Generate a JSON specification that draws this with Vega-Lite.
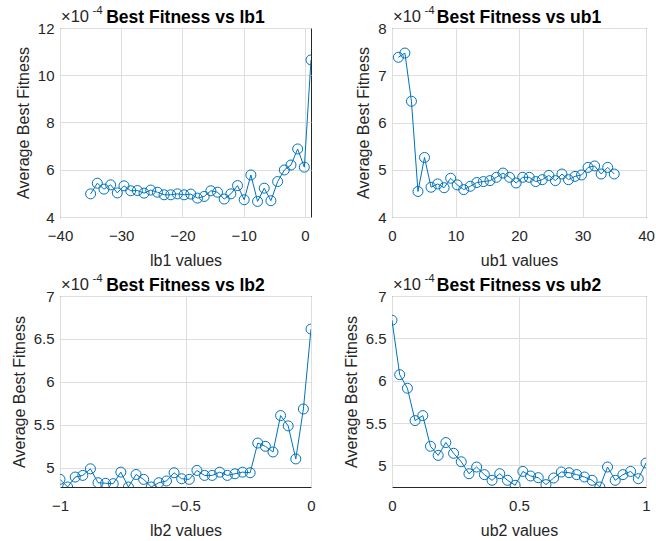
{
  "$schema": "https://vega.github.io/schema/vega-lite/v6.json",
  "background": "white",
  "padding": {"left": 10, "top": 4, "right": 0, "bottom": 0},
  "config": {
    "font": "Liberation Sans",
    "view": {"stroke": "#262626", "strokeWidth": 1},
    "axis": {
      "grid": true, "gridColor": "#dedede", "gridWidth": 1,
      "domain": false, "ticks": false, "labelFlush": false,
      "labelFontSize": 15, "labelColor": "#262626",
      "titleFontSize": 16, "titleFontWeight": "normal", "titleColor": "#262626"
    },
    "axisX": {"labelPadding": 11, "titlePadding": 9},
    "axisY": {"labelPadding": 6, "titlePadding": 6},
    "title": {"fontSize": 17.5, "fontWeight": "bold", "color": "#000000", "offset": -21, "frame": "group", "anchor": "middle"}
  },
  "datasets": {
    "lb1": [
      {"lb1": -35, "fitness": 4.98e-4}, {"lb1": -33.91, "fitness": 5.43e-4}, {"lb1": -32.82, "fitness": 5.18e-4},
      {"lb1": -31.73, "fitness": 5.36e-4}, {"lb1": -30.64, "fitness": 5.02e-4}, {"lb1": -29.55, "fitness": 5.32e-4},
      {"lb1": -28.45, "fitness": 5.11e-4}, {"lb1": -27.36, "fitness": 5.12e-4}, {"lb1": -26.27, "fitness": 5.01e-4},
      {"lb1": -25.18, "fitness": 5.14e-4}, {"lb1": -24.09, "fitness": 5.05e-4}, {"lb1": -23, "fitness": 4.94e-4},
      {"lb1": -21.91, "fitness": 4.94e-4}, {"lb1": -20.82, "fitness": 4.98e-4}, {"lb1": -19.73, "fitness": 4.94e-4},
      {"lb1": -18.64, "fitness": 4.97e-4}, {"lb1": -17.55, "fitness": 4.80e-4}, {"lb1": -16.45, "fitness": 4.87e-4},
      {"lb1": -15.36, "fitness": 5.11e-4}, {"lb1": -14.27, "fitness": 5.05e-4}, {"lb1": -13.18, "fitness": 4.76e-4},
      {"lb1": -12.09, "fitness": 4.98e-4}, {"lb1": -11, "fitness": 5.33e-4}, {"lb1": -9.91, "fitness": 4.73e-4},
      {"lb1": -8.82, "fitness": 5.78e-4}, {"lb1": -7.73, "fitness": 4.66e-4}, {"lb1": -6.64, "fitness": 5.22e-4},
      {"lb1": -5.55, "fitness": 4.69e-4}, {"lb1": -4.45, "fitness": 5.50e-4}, {"lb1": -3.36, "fitness": 5.99e-4},
      {"lb1": -2.27, "fitness": 6.20e-4}, {"lb1": -1.18, "fitness": 6.88e-4}, {"lb1": -0.09, "fitness": 6.11e-4},
      {"lb1": 1, "fitness": 10.65e-4}
    ],
    "ub1": [
      {"ub1": 1, "fitness": 7.38e-4}, {"ub1": 2.03, "fitness": 7.47e-4}, {"ub1": 3.06, "fitness": 6.45e-4},
      {"ub1": 4.09, "fitness": 4.54e-4}, {"ub1": 5.12, "fitness": 5.26e-4}, {"ub1": 6.15, "fitness": 4.63e-4},
      {"ub1": 7.18, "fitness": 4.70e-4}, {"ub1": 8.21, "fitness": 4.62e-4}, {"ub1": 9.24, "fitness": 4.82e-4},
      {"ub1": 10.27, "fitness": 4.68e-4}, {"ub1": 11.30, "fitness": 4.58e-4}, {"ub1": 12.33, "fitness": 4.65e-4},
      {"ub1": 13.36, "fitness": 4.73e-4}, {"ub1": 14.39, "fitness": 4.75e-4}, {"ub1": 15.42, "fitness": 4.77e-4},
      {"ub1": 16.45, "fitness": 4.84e-4}, {"ub1": 17.48, "fitness": 4.93e-4}, {"ub1": 18.52, "fitness": 4.84e-4},
      {"ub1": 19.55, "fitness": 4.72e-4}, {"ub1": 20.58, "fitness": 4.84e-4}, {"ub1": 21.61, "fitness": 4.84e-4},
      {"ub1": 22.64, "fitness": 4.75e-4}, {"ub1": 23.67, "fitness": 4.79e-4}, {"ub1": 24.70, "fitness": 4.88e-4},
      {"ub1": 25.73, "fitness": 4.77e-4}, {"ub1": 26.76, "fitness": 4.91e-4}, {"ub1": 27.79, "fitness": 4.79e-4},
      {"ub1": 28.82, "fitness": 4.86e-4}, {"ub1": 29.85, "fitness": 4.89e-4}, {"ub1": 30.88, "fitness": 5.05e-4},
      {"ub1": 31.91, "fitness": 5.08e-4}, {"ub1": 32.94, "fitness": 4.91e-4}, {"ub1": 33.97, "fitness": 5.05e-4},
      {"ub1": 35, "fitness": 4.91e-4}
    ],
    "lb2": [
      {"lb2": -1, "fitness": 4.864e-4}, {"lb2": -0.9697, "fitness": 4.775e-4}, {"lb2": -0.9394, "fitness": 4.891e-4},
      {"lb2": -0.9091, "fitness": 4.910e-4}, {"lb2": -0.8788, "fitness": 4.987e-4}, {"lb2": -0.8485, "fitness": 4.825e-4},
      {"lb2": -0.8182, "fitness": 4.818e-4}, {"lb2": -0.7879, "fitness": 4.814e-4}, {"lb2": -0.7576, "fitness": 4.948e-4},
      {"lb2": -0.7273, "fitness": 4.775e-4}, {"lb2": -0.6970, "fitness": 4.921e-4}, {"lb2": -0.6667, "fitness": 4.864e-4},
      {"lb2": -0.6364, "fitness": 4.775e-4}, {"lb2": -0.6061, "fitness": 4.825e-4}, {"lb2": -0.5758, "fitness": 4.845e-4},
      {"lb2": -0.5455, "fitness": 4.941e-4}, {"lb2": -0.5152, "fitness": 4.871e-4}, {"lb2": -0.4848, "fitness": 4.864e-4},
      {"lb2": -0.4545, "fitness": 4.968e-4}, {"lb2": -0.4242, "fitness": 4.910e-4}, {"lb2": -0.3939, "fitness": 4.910e-4},
      {"lb2": -0.3636, "fitness": 4.948e-4}, {"lb2": -0.3333, "fitness": 4.910e-4}, {"lb2": -0.3030, "fitness": 4.929e-4},
      {"lb2": -0.2727, "fitness": 4.948e-4}, {"lb2": -0.2424, "fitness": 4.941e-4}, {"lb2": -0.2121, "fitness": 5.287e-4},
      {"lb2": -0.1818, "fitness": 5.249e-4}, {"lb2": -0.1515, "fitness": 5.183e-4}, {"lb2": -0.1212, "fitness": 5.607e-4},
      {"lb2": -0.0909, "fitness": 5.487e-4}, {"lb2": -0.0606, "fitness": 5.102e-4}, {"lb2": -0.0303, "fitness": 5.684e-4},
      {"lb2": 0, "fitness": 6.615e-4}
    ],
    "ub2": [
      {"ub2": 0, "fitness": 6.714e-4}, {"ub2": 0.0303, "fitness": 6.071e-4}, {"ub2": 0.0606, "fitness": 5.911e-4},
      {"ub2": 0.0909, "fitness": 5.529e-4}, {"ub2": 0.1212, "fitness": 5.588e-4}, {"ub2": 0.1515, "fitness": 5.226e-4},
      {"ub2": 0.1818, "fitness": 5.118e-4}, {"ub2": 0.2121, "fitness": 5.270e-4}, {"ub2": 0.2424, "fitness": 5.143e-4},
      {"ub2": 0.2727, "fitness": 5.043e-4}, {"ub2": 0.3030, "fitness": 4.902e-4}, {"ub2": 0.3333, "fitness": 4.981e-4},
      {"ub2": 0.3636, "fitness": 4.891e-4}, {"ub2": 0.3939, "fitness": 4.824e-4}, {"ub2": 0.4242, "fitness": 4.902e-4},
      {"ub2": 0.4545, "fitness": 4.824e-4}, {"ub2": 0.4848, "fitness": 4.765e-4}, {"ub2": 0.5152, "fitness": 4.929e-4},
      {"ub2": 0.5455, "fitness": 4.875e-4}, {"ub2": 0.5758, "fitness": 4.855e-4}, {"ub2": 0.6061, "fitness": 4.773e-4},
      {"ub2": 0.6364, "fitness": 4.851e-4}, {"ub2": 0.6667, "fitness": 4.922e-4}, {"ub2": 0.6970, "fitness": 4.914e-4},
      {"ub2": 0.7273, "fitness": 4.891e-4}, {"ub2": 0.7576, "fitness": 4.863e-4}, {"ub2": 0.7879, "fitness": 4.824e-4},
      {"ub2": 0.8182, "fitness": 4.745e-4}, {"ub2": 0.8485, "fitness": 4.981e-4}, {"ub2": 0.8788, "fitness": 4.824e-4},
      {"ub2": 0.9091, "fitness": 4.891e-4}, {"ub2": 0.9394, "fitness": 4.929e-4}, {"ub2": 0.9697, "fitness": 4.843e-4},
      {"ub2": 1, "fitness": 5.028e-4}
    ],
    "exponent": [{"mult": "×10", "exp": "-4"}]
  },
  "columns": 2,
  "bounds": "flush",
  "spacing": {"row": 79, "column": 81},
  "concat": [
    {
      "width": 251, "height": 189,
      "title": "Best Fitness vs lb1",
      "layer": [
        {
          "data": {"name": "lb1"},
          "mark": {"type": "line", "color": "#0072BD", "strokeWidth": 1, "clip": true},
          "encoding": {
            "x": {"field": "lb1", "type": "quantitative", "title": "lb1 values", "scale": {"domain": [-40, 1], "nice": false, "zero": false}, "axis": {"values": [-40, -30, -20, -10, 0], "format": "~g"}},
            "y": {"field": "fitness", "type": "quantitative", "title": "Average Best Fitness", "scale": {"domain": [0.0004, 0.0012], "nice": false, "zero": false}, "axis": {"values": [0.0004, 0.0006, 0.0008, 0.001, 0.0012], "labelExpr": "format(datum.value * 10000, '~g')"}}
          }
        },
        {
          "data": {"name": "lb1"},
          "mark": {"type": "point", "shape": "circle", "filled": false, "size": 100, "color": "#0072BD", "strokeWidth": 1, "opacity": 1, "clip": true},
          "encoding": {
            "x": {"field": "lb1", "type": "quantitative", "title": "lb1 values"},
            "y": {"field": "fitness", "type": "quantitative", "title": "Average Best Fitness"}
          }
        },
        {
          "data": {"name": "exponent"},
          "mark": {"type": "text", "align": "left", "baseline": "alphabetic", "dx": 1, "dy": -6, "fontSize": 16.5, "color": "#262626"},
          "encoding": {"x": {"datum": -40, "title": "lb1 values"}, "y": {"datum": 0.0012, "title": "Average Best Fitness"}, "text": {"field": "mult"}}
        },
        {
          "data": {"name": "exponent"},
          "mark": {"type": "text", "align": "left", "baseline": "alphabetic", "dx": 32.5, "dy": -14, "fontSize": 11.5, "color": "#262626"},
          "encoding": {"x": {"datum": -40, "title": "lb1 values"}, "y": {"datum": 0.0012, "title": "Average Best Fitness"}, "text": {"field": "exp"}}
        }
      ]
    },
    {
      "width": 254, "height": 189,
      "title": "Best Fitness vs ub1",
      "layer": [
        {
          "data": {"name": "ub1"},
          "mark": {"type": "line", "color": "#0072BD", "strokeWidth": 1, "clip": true},
          "encoding": {
            "x": {"field": "ub1", "type": "quantitative", "title": "ub1 values", "scale": {"domain": [0, 40], "nice": false, "zero": false}, "axis": {"values": [0, 10, 20, 30, 40], "format": "~g"}},
            "y": {"field": "fitness", "type": "quantitative", "title": "Average Best Fitness", "scale": {"domain": [0.0004, 0.0008], "nice": false, "zero": false}, "axis": {"values": [0.0004, 0.0005, 0.0006, 0.0007, 0.0008], "labelExpr": "format(datum.value * 10000, '~g')"}}
          }
        },
        {
          "data": {"name": "ub1"},
          "mark": {"type": "point", "shape": "circle", "filled": false, "size": 100, "color": "#0072BD", "strokeWidth": 1, "opacity": 1, "clip": true},
          "encoding": {
            "x": {"field": "ub1", "type": "quantitative", "title": "ub1 values"},
            "y": {"field": "fitness", "type": "quantitative", "title": "Average Best Fitness"}
          }
        },
        {
          "data": {"name": "exponent"},
          "mark": {"type": "text", "align": "left", "baseline": "alphabetic", "dx": 1, "dy": -6, "fontSize": 16.5, "color": "#262626"},
          "encoding": {"x": {"datum": 0, "title": "ub1 values"}, "y": {"datum": 0.0008, "title": "Average Best Fitness"}, "text": {"field": "mult"}}
        },
        {
          "data": {"name": "exponent"},
          "mark": {"type": "text", "align": "left", "baseline": "alphabetic", "dx": 32.5, "dy": -14, "fontSize": 11.5, "color": "#262626"},
          "encoding": {"x": {"datum": 0, "title": "ub1 values"}, "y": {"datum": 0.0008, "title": "Average Best Fitness"}, "text": {"field": "exp"}}
        }
      ]
    },
    {
      "width": 251, "height": 191,
      "title": "Best Fitness vs lb2",
      "layer": [
        {
          "data": {"name": "lb2"},
          "mark": {"type": "line", "color": "#0072BD", "strokeWidth": 1, "clip": true},
          "encoding": {
            "x": {"field": "lb2", "type": "quantitative", "title": "lb2 values", "scale": {"domain": [-1, 0], "nice": false, "zero": false}, "axis": {"values": [-1, -0.5, 0], "format": "~g"}},
            "y": {"field": "fitness", "type": "quantitative", "title": "Average Best Fitness", "scale": {"domain": [0.0004775, 0.0007], "nice": false, "zero": false}, "axis": {"values": [0.0005, 0.00055, 0.0006, 0.00065, 0.0007], "labelExpr": "format(datum.value * 10000, '~g')"}}
          }
        },
        {
          "data": {"name": "lb2"},
          "mark": {"type": "point", "shape": "circle", "filled": false, "size": 100, "color": "#0072BD", "strokeWidth": 1, "opacity": 1, "clip": true},
          "encoding": {
            "x": {"field": "lb2", "type": "quantitative", "title": "lb2 values"},
            "y": {"field": "fitness", "type": "quantitative", "title": "Average Best Fitness"}
          }
        },
        {
          "data": {"name": "exponent"},
          "mark": {"type": "text", "align": "left", "baseline": "alphabetic", "dx": 1, "dy": -6, "fontSize": 16.5, "color": "#262626"},
          "encoding": {"x": {"datum": -1, "title": "lb2 values"}, "y": {"datum": 0.0007, "title": "Average Best Fitness"}, "text": {"field": "mult"}}
        },
        {
          "data": {"name": "exponent"},
          "mark": {"type": "text", "align": "left", "baseline": "alphabetic", "dx": 32.5, "dy": -14, "fontSize": 11.5, "color": "#262626"},
          "encoding": {"x": {"datum": -1, "title": "lb2 values"}, "y": {"datum": 0.0007, "title": "Average Best Fitness"}, "text": {"field": "exp"}}
        }
      ]
    },
    {
      "width": 254, "height": 191,
      "title": "Best Fitness vs ub2",
      "layer": [
        {
          "data": {"name": "ub2"},
          "mark": {"type": "line", "color": "#0072BD", "strokeWidth": 1, "clip": true},
          "encoding": {
            "x": {"field": "ub2", "type": "quantitative", "title": "ub2 values", "scale": {"domain": [0, 1], "nice": false, "zero": false}, "axis": {"values": [0, 0.5, 1], "format": "~g"}},
            "y": {"field": "fitness", "type": "quantitative", "title": "Average Best Fitness", "scale": {"domain": [0.0004745, 0.0007], "nice": false, "zero": false}, "axis": {"values": [0.0005, 0.00055, 0.0006, 0.00065, 0.0007], "labelExpr": "format(datum.value * 10000, '~g')"}}
          }
        },
        {
          "data": {"name": "ub2"},
          "mark": {"type": "point", "shape": "circle", "filled": false, "size": 100, "color": "#0072BD", "strokeWidth": 1, "opacity": 1, "clip": true},
          "encoding": {
            "x": {"field": "ub2", "type": "quantitative", "title": "ub2 values"},
            "y": {"field": "fitness", "type": "quantitative", "title": "Average Best Fitness"}
          }
        },
        {
          "data": {"name": "exponent"},
          "mark": {"type": "text", "align": "left", "baseline": "alphabetic", "dx": 1, "dy": -6, "fontSize": 16.5, "color": "#262626"},
          "encoding": {"x": {"datum": 0, "title": "ub2 values"}, "y": {"datum": 0.0007, "title": "Average Best Fitness"}, "text": {"field": "mult"}}
        },
        {
          "data": {"name": "exponent"},
          "mark": {"type": "text", "align": "left", "baseline": "alphabetic", "dx": 32.5, "dy": -14, "fontSize": 11.5, "color": "#262626"},
          "encoding": {"x": {"datum": 0, "title": "ub2 values"}, "y": {"datum": 0.0007, "title": "Average Best Fitness"}, "text": {"field": "exp"}}
        }
      ]
    }
  ]
}
